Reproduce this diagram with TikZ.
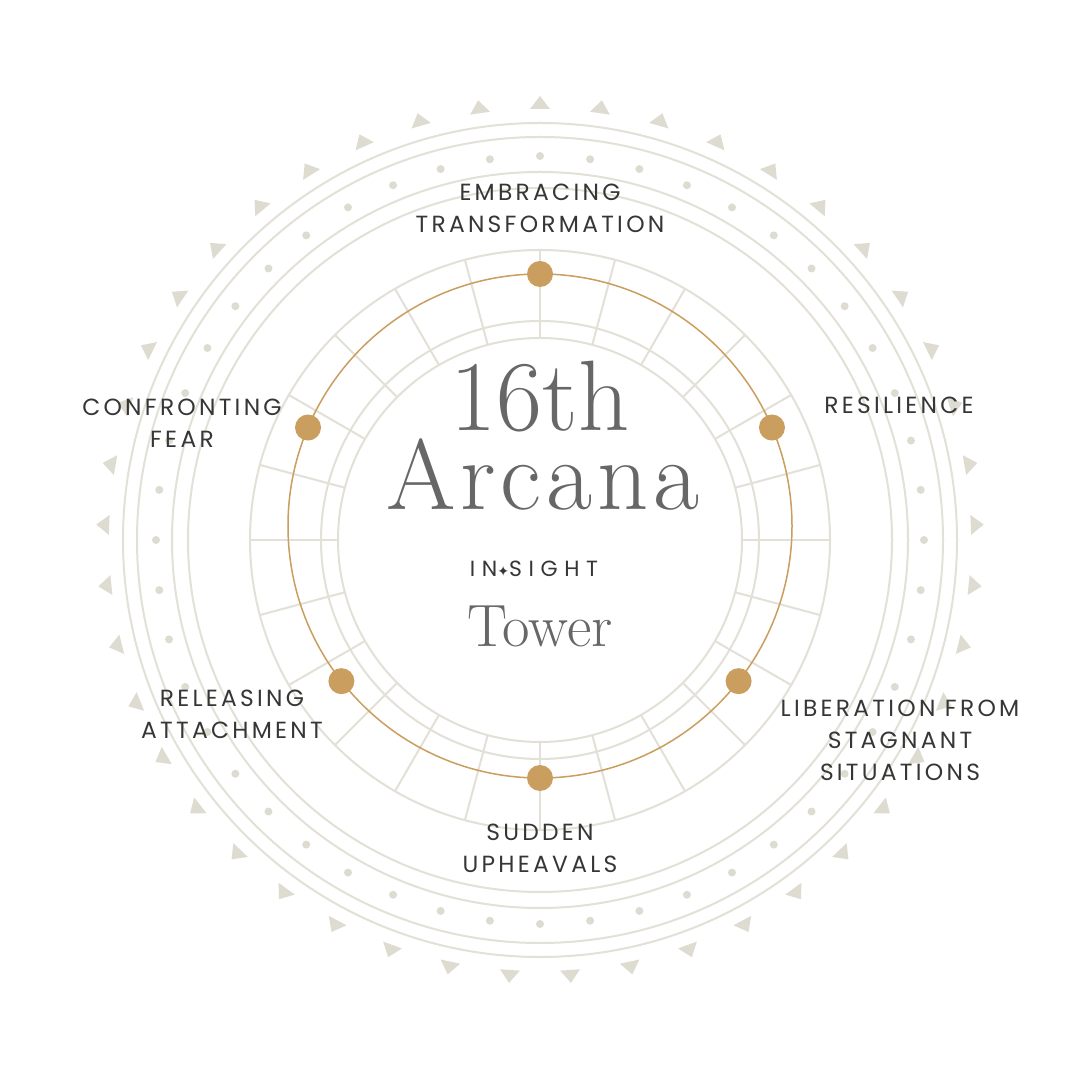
\documentclass[tikz,border=0pt]{standalone}
\usepackage{fontspec}
\newfontfamily\labelfont[LetterSpace=14]{Poppins}
\newfontfamily\sightfont[LetterSpace=30]{Poppins}
\newfontfamily\titlefont[LetterSpace=5]{Latin Modern Roman}
\newfontfamily\starfont{DejaVu Sans}
\definecolor{ring}{HTML}{E3E0D7}
\definecolor{ornament}{HTML}{DEDBD1}
\definecolor{gold}{HTML}{C99E5E}
\definecolor{ink}{HTML}{363636}
\definecolor{titlegrey}{HTML}{676767}
\begin{document}
\begin{tikzpicture}[x=0.2mm,y=0.2mm,line join=round,line cap=round,
		ring/.style={draw=ring,line width=0.4mm},
		lbl/.style={font=\labelfont\fontsize{13.3}{18.2}\selectfont,text=ink,align=center},
		golddot/.style={circle,fill=gold,minimum size=5.2mm,inner sep=0pt},
		titletext/.style={text=titlegrey,anchor=base,inner sep=0pt}]
	\fill[white] (-540,-540) rectangle (540,540);
	\foreach \r in {202,219,290,352,368,403,417}
	{
		\draw[ring] (0,0) circle (\r);
	}
	\foreach \a in {0,15,...,345}
	{
		\draw[ring] (\a:202) -- (\a:290);
	}
	\foreach \a in {0,7.5,...,352.5}
	{
		\fill[ornament] (\a:384) circle (4);
	}
	\foreach \a in {90,98,...,442}
	{
		\fill[ornament,rotate=\a] (444,0) -- (431,10) -- (431,-10) -- cycle;
	}
	\draw[gold,line width=0.3mm] (0,14) circle (252);
	\foreach \a/\n in {90/dtop,23/dres,157/dfear,218/drel,322/dlib,270/dsud}
	{
		\node[golddot] (\n) at ([shift={(0,14)}]\a:252) {};
	}
	\node[titletext,font=\fontsize{57}{57}\selectfont] (num) at (0,109) {16th};
	\node[titletext,font=\titlefont\fontsize{57}{57}\selectfont] (arcana) at (3,30) {Arcana};
	\node[titletext,text=ink,font=\sightfont\fontsize{12.5}{12.5}\selectfont] (insight) at (-6,-37) {IN{\starfont\fontsize{8}{8}\selectfont ✦}SIGHT};
	\node[titletext,font=\fontsize{34}{34}\selectfont] (tower) at (0,-107) {Tower};
	\node[lbl] (transf) at (0,331.5) {EMBRACING\\TRANSFORMATION};
	\node[lbl] (resil) at (359,135) {RESILIENCE};
	\node[lbl] (fear) at (-358,117) {CONFRONTING\\FEAR};
	\node[lbl] (attach) at (-308,-174.5) {RELEASING\\ATTACHMENT};
	\node[lbl] (liber) at (360,-200) {LIBERATION FROM\\STAGNANT\\SITUATIONS};
	\node[lbl] (upheav) at (0,-308.5) {SUDDEN\\UPHEAVALS};
\end{tikzpicture}
\end{document}
